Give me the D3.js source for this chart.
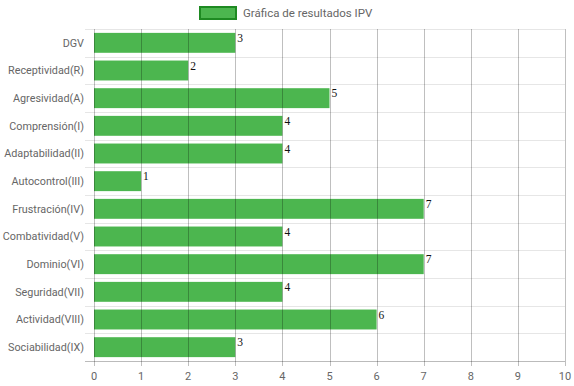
<!DOCTYPE html>
<html>
<head>
<meta charset="utf-8">
<script src="https://cdn.jsdelivr.net/npm/d3@7"></script>
<style>
  body { margin: 0; background: #fff; }
  text { font-family: Roboto, "Liberation Sans", Arial, sans-serif; }
</style>
</head>
<body>
<div id="chart"></div>
<script>
const categories = ["DGV", "Receptividad(R)", "Agresividad(A)", "Comprensión(I)", "Adaptabilidad(II)",
  "Autocontrol(III)", "Frustración(IV)", "Combatividad(V)", "Dominio(VI)", "Seguridad(VII)",
  "Actividad(VIII)", "Sociabilidad(IX)"];
const values = [3, 2, 5, 4, 4, 1, 7, 4, 7, 4, 6, 3];
const xTicks = [0, 1, 2, 3, 4, 5, 6, 7, 8, 9, 10];
const seriesName = "Gráfica de resultados IPV";

const width = 574;
const height = 386;
const margin = { top: 29, right: 9, bottom: 25, left: 94 };

const svg = d3.select("#chart")
  .append("svg")
  .attr("width", width)
  .attr("height", height);

const x = d3.scaleLinear()
  .domain([0, 10])
  .range([margin.left, width - margin.right]);

const y = d3.scaleBand()
  .domain(categories)
  .range([margin.top, height - margin.bottom])
  .paddingInner(0)
  .paddingOuter(0);

const barH = y.bandwidth() * 0.72;

// horizontal grid lines (between categories)
const bandEdges = categories.map(c => y(c)).concat([height - margin.bottom]);
svg.append("g")
  .selectAll("line")
  .data(bandEdges)
  .join("line")
  .attr("x1", margin.left - 9)
  .attr("x2", width - margin.right)
  .attr("y1", d => Math.round(d) + 0.5)
  .attr("y2", d => Math.round(d) + 0.5)
  .attr("stroke", (d, i) => i === bandEdges.length - 1 ? "#bbb" : "#e6e6e6");

// bars
svg.append("g")
  .selectAll("rect")
  .data(values)
  .join("rect")
  .attr("x", x(0))
  .attr("y", (d, i) => y(categories[i]) + (y.bandwidth() - barH) / 2)
  .attr("width", d => x(d) - x(0))
  .attr("height", barH)
  .attr("fill", "#4cb64f");

// vertical grid lines drawn above the bars, semi-transparent
svg.append("g")
  .selectAll("line")
  .data(xTicks)
  .join("line")
  .attr("x1", d => Math.round(x(d)) + 0.5)
  .attr("x2", d => Math.round(x(d)) + 0.5)
  .attr("y1", margin.top)
  .attr("y2", height - margin.bottom + 5)
  .attr("stroke", "rgba(0,0,0,0.25)");

// value labels
svg.append("g")
  .selectAll("text")
  .data(values)
  .join("text")
  .attr("x", d => x(d) + 2)
  .attr("y", (d, i) => y(categories[i]) + (y.bandwidth() - barH) / 2 + 9)
  .style("font-family", "'Liberation Serif', 'Times New Roman', serif")
  .style("font-size", "11.5px")
  .attr("fill", "#111")
  .text(d => d);

// category labels
svg.append("g")
  .selectAll("text")
  .data(categories)
  .join("text")
  .attr("x", margin.left - 10)
  .attr("y", d => y(d) + y.bandwidth() / 2)
  .attr("dy", "0.35em")
  .attr("text-anchor", "end")
  .style("font-size", "10.8px")
  .attr("fill", "#666")
  .text(d => d);

// x tick labels
svg.append("g")
  .selectAll("text")
  .data(xTicks)
  .join("text")
  .attr("x", d => x(d))
  .attr("y", height - margin.bottom + 15)
  .attr("dy", "0.35em")
  .attr("text-anchor", "middle")
  .style("font-size", "11px")
  .attr("fill", "#666")
  .text(d => d);

// legend
const legend = svg.append("g");
legend.append("rect")
  .attr("x", 200)
  .attr("y", 7)
  .attr("width", 36)
  .attr("height", 12)
  .attr("fill", "#4cb64f")
  .attr("stroke", "#1e8a22")
  .attr("stroke-width", 2);
legend.append("text")
  .attr("x", 243)
  .attr("y", 13)
  .attr("dy", "0.35em")
  .style("font-size", "11.5px")
  .attr("fill", "#666")
  .text(seriesName);
</script>
</body>
</html>
